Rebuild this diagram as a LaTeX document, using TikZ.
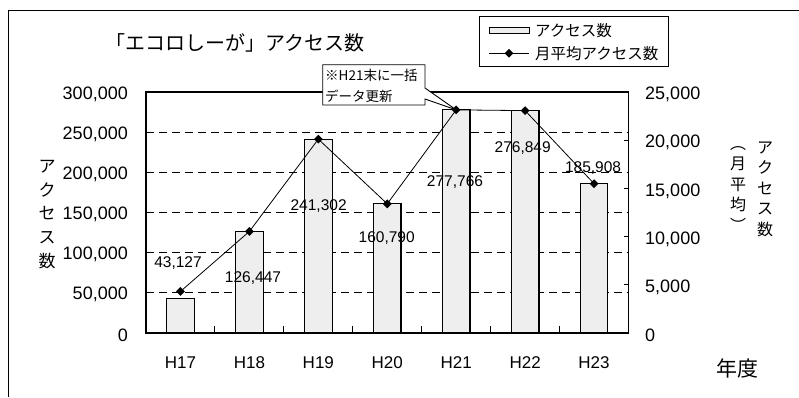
\documentclass[tikz,border=0pt]{standalone}
\usepackage{fontspec}
\setmainfont{Liberation Sans}
\newfontfamily\jp{Noto Sans CJK JP}
\usepackage{xcolor}
\usepackage{tikz}
\usetikzlibrary{shapes.geometric}
\definecolor{barfill}{RGB}{238,238,238}
\tikzstyle{bar} = [draw=black,line width=1.2pt,fill=barfill]
\tikzstyle{gridline} = [dash pattern=on 8pt off 5pt,line width=0.9pt]
\tikzstyle{avgmark} = [diamond,fill=black,inner sep=0pt,minimum width=9pt,minimum height=9pt]
\tikzstyle{avgline} = [line width=0.8pt]
\tikzstyle{ticklabel} = [inner sep=0pt,font=\fontsize{18}{20}\selectfont]
\tikzstyle{datalabel} = [inner sep=0pt,font=\fontsize{15.5}{18}\selectfont]

\begin{document}
\begin{tikzpicture}[x=1pt,y=-1pt]
	\useasboundingbox (0,0) rectangle (799,397);
	
	%Frame and title
	\draw [line width=0.9pt] (8,397) -- (8,10) -- (799,10);
	\node [anchor=west,inner sep=0pt,font=\jp\fontsize{20}{22}\selectfont] (title) at (105,43) {「エコロしーが」アクセス数};
	
	% Chart:
	% x in years, y in thousands of accesses (the right axis is the same scale divided by 12)
	\begin{scope}[shift={(146,333)},x=68.93pt,y=0.8033pt]
		
		% Grid
		\foreach \v in {50,100,...,250}
			\draw [gridline] (0,\v) -- (7,\v);
		
		% Bars
		\foreach \i/\total in {0/43.127,1/126.447,2/241.302,3/160.790,4/277.766,5/276.849,6/185.908}
			\draw [bar] (\i+0.3,0) rectangle (\i+0.7,\total);
		
		% Axes and ticks
		\draw [line width=1.2pt] (0,0) rectangle (7,300);
		\foreach \i in {1,...,6}
			\draw [line width=1pt] (\i,0) -- ++(0,7pt);
		\foreach \v in {5,10,...,20}
			\draw [line width=1pt] (7,\v*12) -- ++(-5pt,0);
		
		% Tick labels
		\foreach \v/\t in {0/0,50/{50,000},100/{100,000},150/{150,000},200/{200,000},250/{250,000},300/{300,000}}
			\node [ticklabel,anchor=east] at (0,\v) [xshift=-18pt,yshift=-2pt] {\t};
		\foreach \v/\t in {0/0,5/{5,000},10/{10,000},15/{15,000},20/{20,000},25/{25,000}}
			\node [ticklabel,anchor=west] at (7,\v*12) [xshift=16.5pt,yshift=-2.5pt] {\t};
		\foreach \i/\yr in {0/H17,1/H18,2/H19,3/H20,4/H21,5/H22,6/H23}
			\node [inner sep=0pt,font=\fontsize{17}{20}\selectfont] (cat\i) at (\i+0.5,0) [yshift=-30pt] {\yr};
		
		% Monthly average
		\foreach \i/\month in {0/4.3127,1/10.537,2/20.109,3/13.399,4/23.147,5/23.071,6/15.492}
			\node [avgmark] (m\i) at (\i+0.5,{12*\month}) {};
		\draw [avgline] (m0.center) -- (m1.center) -- (m2.center) -- (m3.center) -- (m4.center) -- (m5.center) -- (m6.center);
		
		% Data labels
		\foreach \i/\dx/\ly/\t in {0/-2.5/87.5/{43,127},1/3.6/68.1/{126,447},2/0.3/158.1/{241,302},3/-0.6/117.9/{160,790},4/-1.2/188.3/{277,766},5/-2.4/229.9/{276,849},6/-1.0/205.0/{185,908}}
			\node [datalabel] (lab\i) at (\i+0.5,\ly) [xshift=\dx pt] {\t};
		
	\end{scope}
	
	% Callout
	\filldraw [fill=white,line width=0.9pt] (322.7,64.7) -- (425,64.7) -- (425,88) -- (m4.center) -- (425,99) -- (425,105) -- (322.7,105) -- cycle;
	\node [anchor=west,inner sep=0pt,align=left,font=\jp\fontsize{13.5}{21}\selectfont] (note) at (325,85.5) {※H21末に一括\\データ更新};
	
	% Legend
	\draw [line width=0.9pt] (479,16) rectangle (668,66);
	\draw [bar,line width=0.9pt] (489,27.7) rectangle (529,33.3);
	\node [anchor=west,inner sep=0pt,font=\jp\fontsize{15.5}{18}\selectfont] (legbar) at (535,31) {アクセス数};
	\draw [avgline] (489,53.3) -- (529,53.3);
	\node [avgmark] (legmark) at (509,53.3) {};
	\node [anchor=west,inner sep=0pt,font=\jp\fontsize{15.5}{18}\selectfont] (legavg) at (535,53.3) {月平均アクセス数};
	
	% Axis titles
	\node [align=center,inner sep=0pt,font=\jp\fontsize{17}{23.75}\selectfont] (ytitle) at (47,214.5) {ア\\ク\\セ\\ス\\数};
	\node [align=center,inner sep=0pt,font=\jp\fontsize{16}{20.5}\selectfont] (y2paren) at (738,189) {︵\\月\\平\\均\\︶};
	\node [align=center,inner sep=0pt,font=\jp\fontsize{16}{20.5}\selectfont] (y2title) at (765,189) {ア\\ク\\セ\\ス\\数};
	\node [inner sep=0pt,font=\jp\fontsize{21}{24}\selectfont] (xtitle) at (737.5,368) {年度};
	
\end{tikzpicture}
\end{document}
